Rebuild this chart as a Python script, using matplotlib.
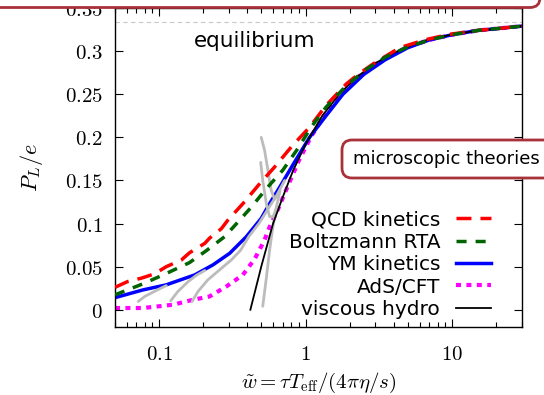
import numpy as np
import matplotlib
matplotlib.use('Agg')
import matplotlib.pyplot as plt
from matplotlib.patches import FancyBboxPatch
from matplotlib.ticker import FixedLocator, FixedFormatter, LogLocator, NullFormatter


plt.rcParams['mathtext.fontset'] = 'cm'
plt.rcParams['font.family'] = ['DejaVu Sans']


# ============================================================================
# Data  (w_tilde, P_L/e)
# ============================================================================
qcd_w  = [0.05, 0.061, 0.0756, 0.093, 0.112, 0.142, 0.161, 0.205, 0.221, 0.266, 0.295,
          0.373, 0.485, 0.614, 0.8, 1.065, 1.38, 1.9, 2.28, 3.0, 4.4, 6.5, 9.6, 15, 20, 30]
qcd_pl = [0.026, 0.0327, 0.0366, 0.0416, 0.050, 0.0577, 0.066, 0.077, 0.083, 0.094, 0.104,
          0.123, 0.146, 0.1655, 0.189, 0.2117, 0.237, 0.262, 0.273, 0.287, 0.304, 0.313, 0.3195, 0.324, 0.326, 0.329]

rta_w  = [0.05, 0.0796, 0.115, 0.161, 0.21, 0.28, 0.364, 0.426, 0.54, 0.70, 0.886,
          1.094, 1.38, 1.9, 2.6, 3.5, 5, 7, 10, 15, 20, 30]
rta_pl = [0.0173, 0.0308, 0.043, 0.0546, 0.0685, 0.0847, 0.106, 0.119, 0.1405, 0.162, 0.187,
          0.212, 0.235, 0.260, 0.279, 0.293, 0.305, 0.313, 0.319, 0.324, 0.326, 0.329]

ym_w  = [0.05, 0.0776, 0.112, 0.175, 0.233, 0.303, 0.394, 0.498, 0.568, 0.665, 0.819,
         1.065, 1.38, 1.8, 2.5, 3.5, 5, 7, 10, 15, 20, 30]
ym_pl = [0.014, 0.023, 0.0289, 0.0404, 0.052, 0.0654, 0.0847, 0.106, 0.123, 0.142, 0.168,
         0.200, 0.225, 0.250, 0.273, 0.290, 0.304, 0.313, 0.319, 0.324, 0.326, 0.329]

ads_w  = [0.05, 0.0776, 0.124, 0.17, 0.221, 0.288, 0.373, 0.45, 0.525, 0.568, 0.65, 0.75,
          0.9, 1.1, 1.4, 1.9, 2.6, 3.5, 5, 7, 10, 15, 20, 30]
ads_pl = [0.002, 0.002, 0.0058, 0.0115, 0.0154, 0.027, 0.0404, 0.059, 0.081, 0.096, 0.117, 0.142,
          0.173, 0.202, 0.230, 0.258, 0.278, 0.292, 0.305, 0.313, 0.319, 0.324, 0.326, 0.329]

hydro_w  = [0.42, 0.5, 0.6, 0.7, 0.82, 1.0, 1.3, 1.7, 2.2, 3.0, 4.0, 5.5, 7.5, 10, 14, 20, 30]
hydro_pl = [0.0, 0.051, 0.100, 0.131, 0.161, 0.192, 0.225, 0.250, 0.269, 0.286, 0.298,
            0.308, 0.315, 0.319, 0.323, 0.326, 0.329]

# grey curves (different initial conditions)
grey_w = [
    [0.072, 0.08, 0.09, 0.1, 0.112],
    [0.12, 0.134, 0.158, 0.18, 0.205],
    [0.168, 0.184, 0.215, 0.266, 0.311, 0.36, 0.41, 0.48, 0.55, 0.62],
    [0.498, 0.525, 0.553, 0.582, 0.614, 0.66, 0.72],
    [0.494, 0.51, 0.54, 0.568, 0.6, 0.64],
    [0.51, 0.54, 0.568, 0.598, 0.63, 0.67],
]
grey_pl = [
    [0.0096, 0.0155, 0.020, 0.024, 0.028],
    [0.0104, 0.021, 0.0327, 0.040, 0.0455],
    [0.0096, 0.021, 0.0346, 0.048, 0.0577, 0.069, 0.085, 0.100, 0.116, 0.130],
    [0.200, 0.185, 0.162, 0.139, 0.128, 0.138, 0.150],
    [0.171, 0.150, 0.123, 0.108, 0.108, 0.120],
    [0.004, 0.037, 0.069, 0.096, 0.118, 0.138],
]

eq_value = 1.0 / 3.0

x_ticks = [0.1, 1, 10]
x_ticklabels = ['$0.1$', '$1$', '$10$']
y_ticks = [0, 0.05, 0.1, 0.15, 0.2, 0.25, 0.3, 0.35]
y_ticklabels = ['$0$', '$0.05$', '$0.1$', '$0.15$', '$0.2$', '$0.25$', '$0.3$', '$0.35$']

box_color = '#a8323a'


# ============================================================================
# Plot
# ============================================================================
fig = plt.figure(figsize=(5.44, 3.95), dpi=100)
ax = fig.add_axes([0.2114, 0.1722, 0.748, 0.8075])

ax.axhline(eq_value, color='#c8c8c8', lw=0.8, dashes=(4, 3), zorder=1)

ax.plot(ads_w, ads_pl, color='#ff00ff', lw=3, dashes=(1.2, 1.3), zorder=1.5, label='AdS/CFT')
ax.plot(ym_w, ym_pl, color='#0000ff', lw=2.5, zorder=2, label='YM kinetics')
for gw, gp in zip(grey_w, grey_pl):
    ax.plot(gw, gp, color='#bcbcbc', lw=2, zorder=3, solid_capstyle='round')
ax.plot(hydro_w, hydro_pl, color='black', lw=1.3, zorder=5, label='viscous hydro')
ax.plot(qcd_w, qcd_pl, color='#ff0000', lw=2.5, dashes=(4.3, 2.6), zorder=6, label='QCD kinetics')
ax.plot(rta_w, rta_pl, color='#006400', lw=2.5, dashes=(2.9, 2.6), zorder=7, label='Boltzmann RTA')

ax.set_xscale('log')
ax.set_xlim(0.05, 30)
ax.set_ylim(-0.02, 0.35)

ax.xaxis.set_major_locator(FixedLocator(x_ticks))
ax.xaxis.set_major_formatter(FixedFormatter(x_ticklabels))
ax.xaxis.set_minor_locator(LogLocator(base=10, subs=np.arange(2, 10), numticks=20))
ax.xaxis.set_minor_formatter(NullFormatter())
ax.yaxis.set_major_locator(FixedLocator(y_ticks))
ax.yaxis.set_major_formatter(FixedFormatter(y_ticklabels))

ax.tick_params(which='both', direction='in', top=True, right=True, width=0.8)
ax.tick_params(which='major', length=6, labelsize=15)
ax.tick_params(axis='x', which='major', pad=12)
ax.tick_params(axis='y', which='major', pad=9)
ax.tick_params(which='minor', length=3.5)
for s in ax.spines.values():
    s.set_linewidth(1.0)

ax.set_xlabel(r'$\tilde{w} = \tau T_{\rm eff}/(4\pi\eta/s)$', fontsize=15, labelpad=5)
ax.set_ylabel(r'$P_L/e$', fontsize=16, labelpad=14)

ax.text(0.45, 0.312, 'equilibrium', fontsize=15.5, ha='center', va='center')

# legend order as in picture
handles, labels = ax.get_legend_handles_labels()
order = ['QCD kinetics', 'Boltzmann RTA', 'YM kinetics', 'AdS/CFT', 'viscous hydro']
hl = dict(zip(labels, handles))
leg = ax.legend([hl[k] for k in order], order, loc='lower right', frameon=False,
                markerfirst=False, fontsize=14.5, handlelength=1.75, handletextpad=0.8,
                labelspacing=0.17, borderaxespad=0, bbox_to_anchor=(0.945, 0.0))
for t in leg.get_texts():
    t.set_ha('right')

# boxes (in figure inches)
top_box = FancyBboxPatch((-0.3, 3.875), 5.70, 0.6, boxstyle='round,pad=0,rounding_size=0.1',
                         transform=fig.dpi_scale_trans, fc='white', ec=box_color, lw=2, zorder=10)
fig.add_artist(top_box)

micro_box = FancyBboxPatch((3.42, 2.17), 2.3, 0.38, boxstyle='round,pad=0,rounding_size=0.1',
                           transform=fig.dpi_scale_trans, fc='white', ec=box_color, lw=2, zorder=10)
fig.add_artist(micro_box)
fig.text(3.53 / 5.44, 2.36 / 3.95, 'microscopic theories', fontsize=13, ha='left', va='center', zorder=11)

plt.savefig('out.png', dpi=100)
